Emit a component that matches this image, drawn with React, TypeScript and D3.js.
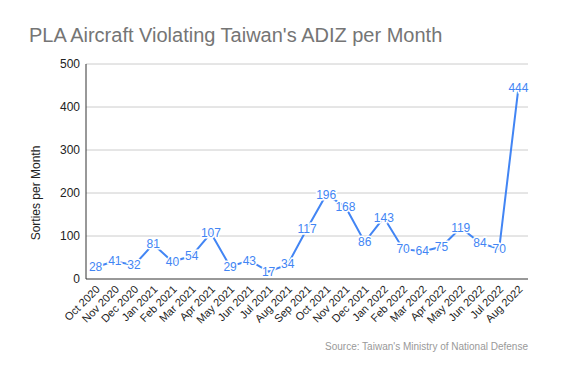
import * as d3 from 'd3'
import { useEffect, useRef } from 'react';

const months = ['Oct 2020', 'Nov 2020', 'Dec 2020', 'Jan 2021', 'Feb 2021', 'Mar 2021', 'Apr 2021', 'May 2021', 'Jun 2021', 'Jul 2021', 'Aug 2021', 'Sep 2021', 'Oct 2021', 'Nov 2021', 'Dec 2021', 'Jan 2022', 'Feb 2022', 'Mar 2022', 'Apr 2022', 'May 2022', 'Jun 2022', 'Jul 2022', 'Aug 2022'];
const sorties = [28, 41, 32, 81, 40, 54, 107, 29, 43, 17, 34, 117, 196, 168, 86, 143, 70, 64, 75, 119, 84, 70, 444];
const yTicks = [0, 100, 200, 300, 400, 500];

const App = () => {
  const svgRef = useRef<SVGSVGElement>(null);

  useEffect(() => {
    const width = 567;
    const height = 372;
    const margin = { top: 64, right: 39, bottom: 93, left: 86 };

    const svg = d3.select(svgRef.current);
    svg.selectAll('*').remove();
    svg.style('font-family', 'Arial, "Liberation Sans", sans-serif');

    const x = d3.scaleBand<string>()
      .domain(months)
      .range([margin.left, width - margin.right]);

    const y = d3.scaleLinear()
      .domain([0, 500])
      .range([height - margin.bottom, margin.top]);

    const xc = (m: string) => (x(m) as number) + x.bandwidth() / 2;

    // title
    svg.append('text')
      .attr('x', 29).attr('y', 42)
      .attr('font-size', 20)
      .attr('fill', '#757575')
      .text("PLA Aircraft Violating Taiwan's ADIZ per Month");

    // gridlines
    svg.append('g')
      .selectAll('line')
      .data(yTicks.filter(t => t > 0))
      .join('line')
      .attr('x1', margin.left).attr('x2', width - margin.right)
      .attr('y1', d => y(d)).attr('y2', d => y(d))
      .attr('stroke', '#cccccc');

    // y axis labels
    svg.append('g')
      .selectAll('text')
      .data(yTicks)
      .join('text')
      .attr('x', margin.left - 6)
      .attr('y', d => y(d) + 4)
      .attr('text-anchor', 'end')
      .attr('font-size', 12)
      .attr('fill', '#222')
      .text(d => d);

    // axis lines
    svg.append('line')
      .attr('x1', margin.left).attr('x2', margin.left)
      .attr('y1', margin.top).attr('y2', y(0))
      .attr('stroke', '#333');
    svg.append('line')
      .attr('x1', margin.left).attr('x2', width - margin.right)
      .attr('y1', y(0)).attr('y2', y(0))
      .attr('stroke', '#333');

    // y title
    svg.append('text')
      .attr('transform', `translate(40, 193) rotate(-90)`)
      .attr('text-anchor', 'middle')
      .attr('font-size', 12)
      .attr('fill', '#222')
      .text('Sorties per Month');

    // x labels
    svg.append('g')
      .selectAll('text')
      .data(months)
      .join('text')
      .attr('transform', d => `translate(${xc(d) + 5}, ${y(0) + 11}) rotate(-45)`)
      .attr('text-anchor', 'end')
      .attr('font-size', 11)
      .attr('fill', '#222')
      .text(d => d);

    // line
    const line = d3.line<number>()
      .x((_, i) => xc(months[i]))
      .y(d => y(d));

    svg.append('path')
      .datum(sorties)
      .attr('d', line)
      .attr('fill', 'none')
      .attr('stroke', '#4285f4')
      .attr('stroke-width', 2);

    // data labels
    svg.append('g')
      .selectAll('text')
      .data(sorties)
      .join('text')
      .attr('x', (_, i) => xc(months[i]))
      .attr('y', d => y(d) + 4)
      .attr('text-anchor', 'middle')
      .attr('font-size', 12)
      .attr('fill', '#4285f4')
      .attr('stroke', '#fff')
      .attr('stroke-width', 3)
      .attr('paint-order', 'stroke')
      .text(d => d);

    // source
    svg.append('text')
      .attr('x', width - margin.right)
      .attr('y', 350)
      .attr('text-anchor', 'end')
      .attr('font-size', 10)
      .attr('fill', '#999')
      .text("Source: Taiwan's Ministry of National Defense");
  }, []);

  return (
    <svg ref={svgRef} width={567} height={372} style={{ position: 'absolute', left: 0, top: 0 }} />
  )
}

export default App
